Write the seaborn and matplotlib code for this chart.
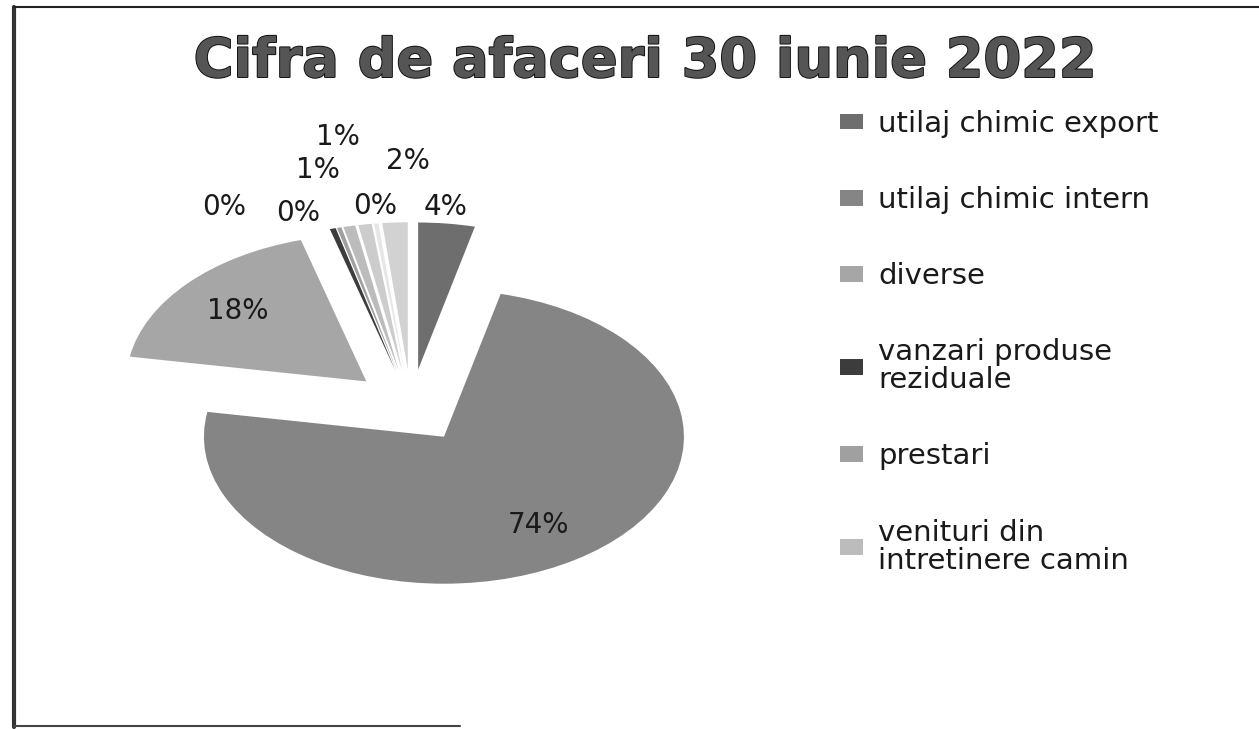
import seaborn as sns
import matplotlib.pyplot as plt
import matplotlib.patheffects as pe
from matplotlib.lines import Line2D

# date
categorii = ['utilaj chimic export', 'utilaj chimic intern', 'diverse',
             'vanzari produse\nreziduale', 'prestari',
             'venituri din\nintretinere camin']
valori = [3.8, 73.9, 17.9, 0.4, 0.3, 0.8, 0.9, 0.3, 1.7]
culori = ['#6e6e6e', '#858585', '#a6a6a6', '#3c3c3c', '#a0a0a0',
          '#bcbcbc', '#cccccc', '#e6e6e6', '#d2d2d2']
titlu = 'Cifra de afaceri 30 iunie 2022'

# pozitii etichete mici (mutate ca in Excel)
poz_etichete = {0: (0.146, 1.354), 3: (-0.779, 1.354), 4: (-0.471, 1.313),
                5: (-0.388, 1.605), 6: (-0.304, 1.830), 7: (-0.150, 1.361),
                8: (-0.013, 1.667)}

sns.set_theme(style='white')
plt.rcParams['font.family'] = ['DejaVu Sans']

fig = plt.figure(figsize=(12.59, 7.29), dpi=100)
ax = fig.add_axes([27 / 1259, 29 / 729, 768 / 1259, 588 / 729])

wedges, texts, autotexts = ax.pie(valori, colors=culori, startangle=90,
                                  counterclock=False, explode=[0.25] * len(valori),
                                  autopct='%1.0f%%', pctdistance=0.72,
                                  wedgeprops={'linewidth': 0},
                                  textprops={'fontsize': 20, 'color': '#1a1a1a'})
ax.set_aspect('auto')
ax.set_xlim(-1.6, 1.6)
ax.set_ylim(-2.0, 2.0)

for i, (x, y) in poz_etichete.items():
    autotexts[i].set_position((x, y))
for t in autotexts:
    t.set_ha('center')
    t.set_va('center')

# titlu
fig.text(0.512, 1 - 77 / 729, titlu, ha='center', va='baseline', fontsize=39,
         fontweight='bold', color='#555555',
         path_effects=[pe.Stroke(linewidth=1.4, foreground='#111111'), pe.Normal()])

# legenda
leg = fig.legend(wedges[:6], categorii, loc='upper left',
                 bbox_to_anchor=(840 / 1259, 1 - 110 / 729), frameon=False,
                 fontsize=21, handlelength=0.8, handleheight=0.45,
                 handletextpad=0.52, labelspacing=1.65, borderpad=0,
                 borderaxespad=0)
for t in leg.get_texts():
    t.set_linespacing(1.0)
    t.set_color('#1a1a1a')

# chenar
fig.add_artist(Line2D([14 / 1259, 14 / 1259], [1 - 727 / 729, 1 - 7 / 729],
                      color='#333333', lw=3, transform=fig.transFigure))
fig.add_artist(Line2D([14 / 1259, 1.0], [1 - 7 / 729, 1 - 7 / 729],
                      color='#222222', lw=1.5, transform=fig.transFigure))
fig.add_artist(Line2D([14 / 1259, 460 / 1259], [1 - 726 / 729, 1 - 726 / 729],
                      color='#444444', lw=1.5, transform=fig.transFigure))

fig.savefig('out.png', dpi=100)
